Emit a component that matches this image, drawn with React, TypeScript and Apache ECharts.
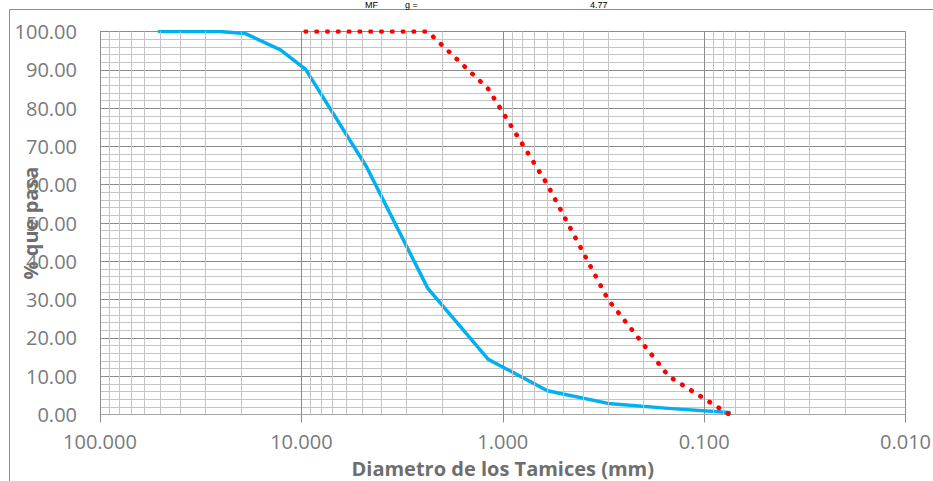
import React, { useEffect, useRef } from "react";
import * as echarts from "echarts";

// Sieve openings (mm) and % passing – sample (blue solid)
const sampleSieves = [50.8, 38.1, 25.4, 19.05, 12.7, 9.525, 4.75, 2.36, 1.18, 0.6, 0.3, 0.15, 0.075];
const samplePassing = [100, 100, 100, 99.5, 95.2, 90.1, 64.7, 33.0, 14.4, 6.2, 2.9, 1.6, 0.5];

// Limit curve (red dotted)
const limitSieves = [9.525, 4.75, 2.36, 1.18, 0.6, 0.3, 0.15, 0.075];
const limitPassing = [100, 100, 100, 85, 60, 30, 10, 0];

// Axis settings
const xMin = 0.01;
const xMax = 100;
const decades = [10, 1, 0.1, 0.01];
const minorMultipliers = [2, 3, 4, 5, 6, 7, 8, 9];

const titleLeft = "MF";
const titleMid = "g =";
const titleValue = "4.77";

export default function App() {
  const ref = useRef<HTMLDivElement>(null);

  useEffect(() => {
    if (!ref.current) return;
    const chart = echarts.init(ref.current, undefined, { renderer: "svg" });

    const minorLines: any[] = [];
    decades.forEach((d) => {
      minorMultipliers.forEach((m) => {
        minorLines.push({ xAxis: +(d * m).toPrecision(6) });
      });
    });

    const sampleData = sampleSieves.map((s, i) => [s, samplePassing[i]]);
    const limitData = limitSieves.map((s, i) => [s, limitPassing[i]]);

    const labelFont = {
      fontFamily: "Open Sans",
      fontSize: 20,
      lineHeight: 20,
      color: "#7a7a7a",
    };

    const titleStyle = {
      fontFamily: "Liberation Sans",
      fontSize: 9,
      fill: "#000",
      verticalAlign: "top",
    };

    const option: any = {
      animation: false,
      grid: {
        left: 100,
        right: 27.5,
        top: 31.5,
        bottom: 66.5,
        containLabel: false,
        outerBoundsMode: "none",
      },
      xAxis: {
        type: "log",
        logBase: 10,
        min: xMin,
        max: xMax,
        inverse: true,
        axisLine: { show: true, lineStyle: { color: "#a6a6a6", width: 1 } },
        axisTick: { show: true, length: 8, lineStyle: { color: "#8c8c8c", width: 1 } },
        axisLabel: {
          ...labelFont,
          margin: 17,
          formatter: (v: number) => Number(v).toFixed(3),
        },
        splitLine: { show: true, lineStyle: { color: "#8c8c8c", width: 1 } },
        name: "Diametro de los Tamices (mm)",
        nameLocation: "middle",
        nameGap: 44,
        nameMoveOverlap: false,
        nameTextStyle: {
          fontFamily: "Open Sans",
          fontWeight: "bold",
          fontSize: 20,
          lineHeight: 20,
          color: "#6e6e6e",
        },
      },
      yAxis: {
        type: "value",
        min: 0,
        max: 100,
        interval: 10,
        axisLine: { show: true, lineStyle: { color: "#8c8c8c", width: 1 } },
        axisTick: { show: false },
        minorTick: { show: false, splitNumber: 5 },
        minorSplitLine: { show: true, lineStyle: { color: "#c4c4c4", width: 1 } },
        splitLine: { show: true, lineStyle: { color: "#8c8c8c", width: 1 } },
        axisLabel: {
          ...labelFont,
          margin: 23,
          formatter: (v: number) => v.toFixed(2),
        },
        name: "% que pasa",
        nameLocation: "middle",
        nameGap: 60,
        nameRotate: 90,
        nameMoveOverlap: false,
        nameTextStyle: {
          fontFamily: "Open Sans",
          fontWeight: "bold",
          fontSize: 20,
          lineHeight: 20,
          color: "#6e6e6e",
        },
      },
      series: [
        {
          type: "line",
          data: [],
          silent: true,
          z: 1,
          markLine: {
            silent: true,
            symbol: ["none", "none"],
            label: { show: false },
            lineStyle: { color: "#c4c4c4", width: 1, type: "solid" },
            emphasis: { disabled: true },
            data: minorLines,
          },
        },
        {
          type: "line",
          data: sampleData,
          showSymbol: false,
          symbol: "none",
          z: 4,
          lineStyle: { color: "#00B0F0", width: 3.5, join: "round", cap: "round" },
        },
        {
          type: "line",
          data: limitData,
          showSymbol: false,
          symbol: "none",
          z: 5,
          lineStyle: { color: "#FF0000", width: 4.6, type: [0.5, 10.3], cap: "round" },
        },
      ],
      graphic: [
        {
          type: "line",
          shape: { x1: 9.5, y1: 9.5, x2: 933, y2: 9.5 },
          style: { stroke: "#8c8c8c", lineWidth: 1 },
        },
        {
          type: "line",
          shape: { x1: 9.5, y1: 9.5, x2: 9.5, y2: 481 },
          style: { stroke: "#8c8c8c", lineWidth: 1 },
        },
        { type: "text", x: 365, y: 0, style: { ...titleStyle, text: titleLeft } },
        { type: "text", x: 405, y: 0, style: { ...titleStyle, text: titleMid } },
        { type: "text", x: 590, y: 0, style: { ...titleStyle, text: titleValue } },
      ],
    };

    chart.setOption(option);
    return () => chart.dispose();
  }, []);

  return <div ref={ref} style={{ width: 933, height: 481, position: "absolute", left: 0, top: 0 }} />;
}
